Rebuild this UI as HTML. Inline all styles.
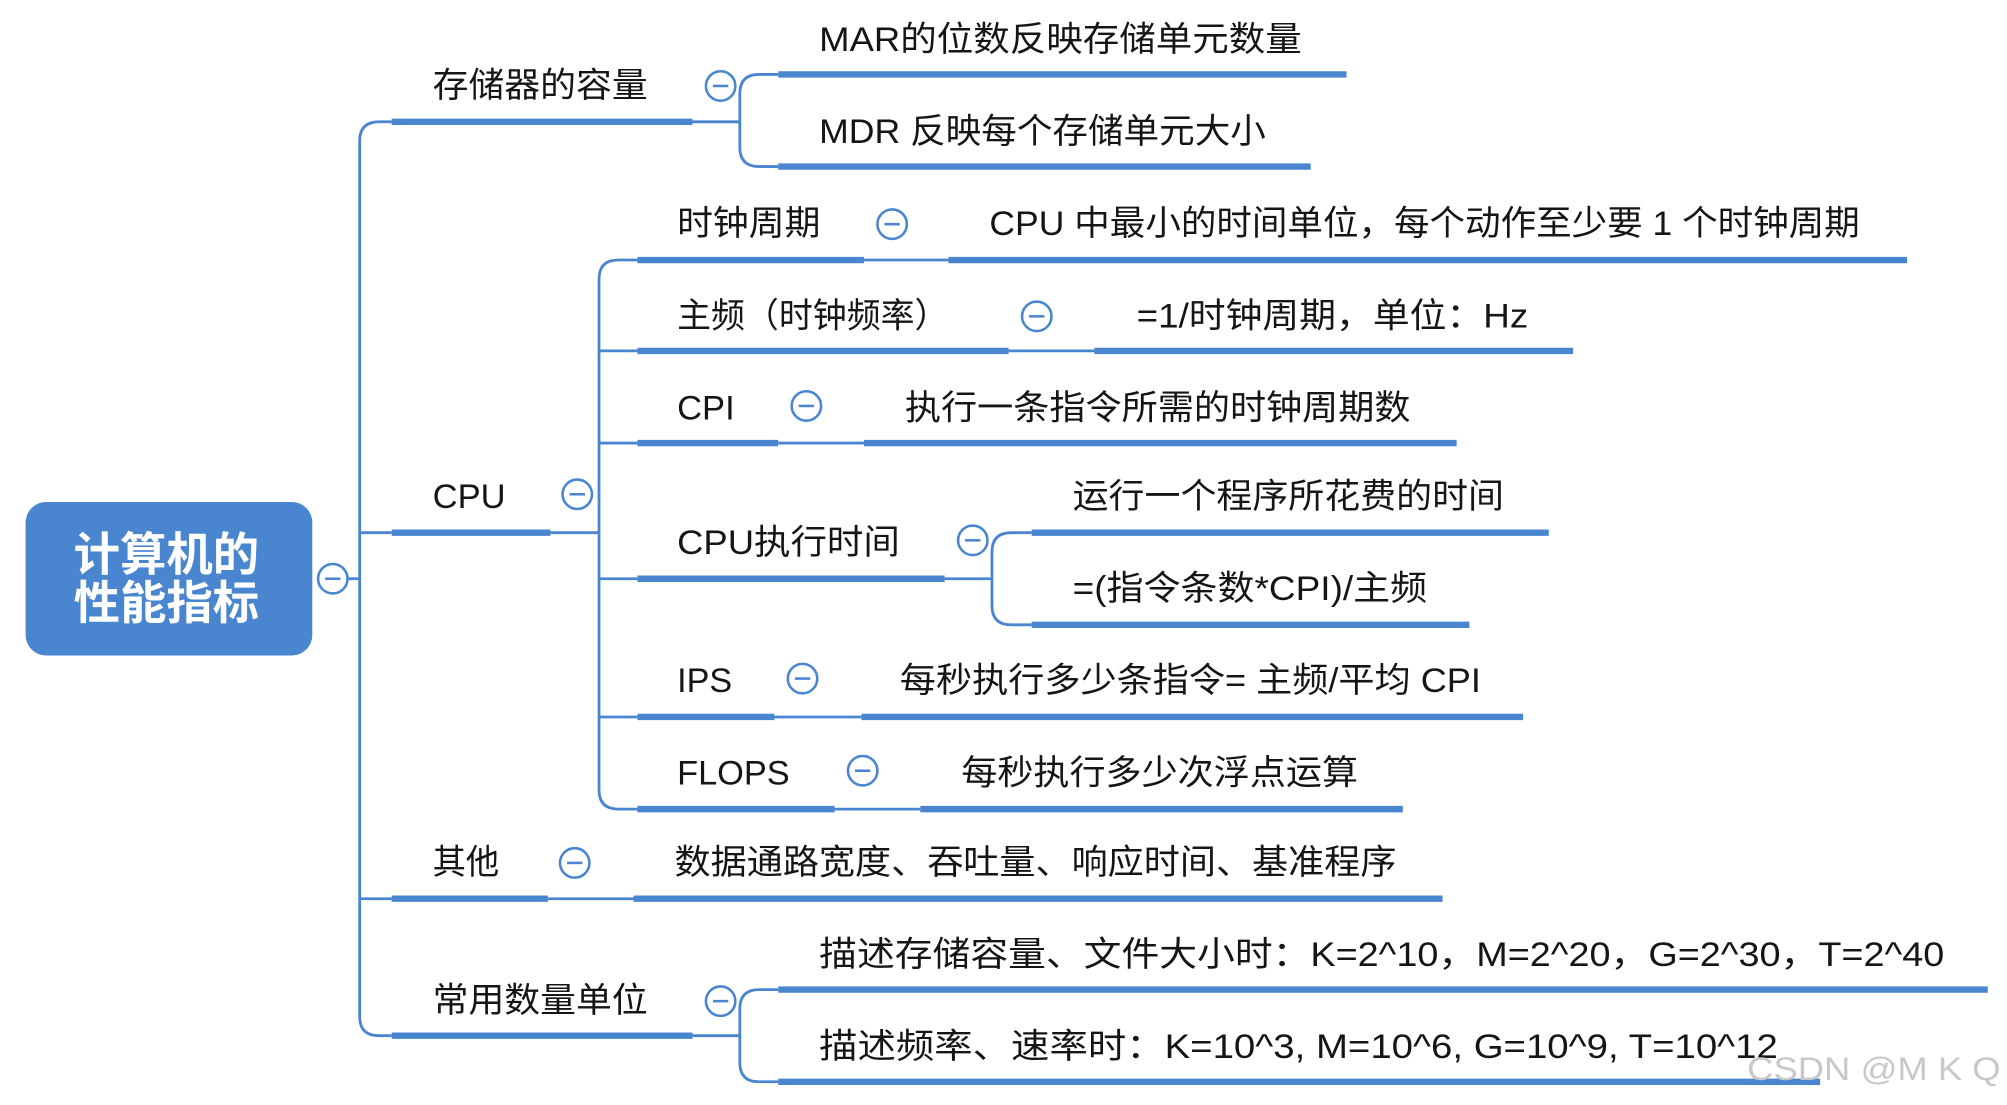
<!DOCTYPE html>
<html><head><meta charset="utf-8"><style>
html,body{margin:0;padding:0;background:#fff;}
svg{display:block}
text{font-family:"Liberation Sans","Noto Sans CJK SC",sans-serif;fill:#151515;font-size:27px;dominant-baseline:central}
</style></head><body>
<svg width="2007" height="1105" viewBox="0 0 1568 863" xmlns="http://www.w3.org/2000/svg">
<g fill="none" stroke="#4a86d0" stroke-width="2.2">
<path d="M271,452 L281,452"/>
<path d="M296,95 Q281,95 281,110 L281,794 Q281,809 296,809 L306,809"/>
<path d="M296,95 L306,95"/>
<path d="M281,416 L306,416 M281,702 L306,702"/>
<path d="M541,95 L578,95 M608,58 L593,58 Q578,58 578,73 L578,115 Q578,130 593,130 L608,130"/>
<path d="M430,416 L468,416 M498,203 L483,203 Q468,203 468,218 L468,617 Q468,632 483,632 L498,632"/>
<path d="M468,274 L498,274 M468,346 L498,346 M468,452 L498,452 M468,560 L498,560"/>
<path d="M675,203 L741,203 M788,274 L855,274 M608,346 L675,346 M605,560 L673,560 M652,632 L719,632 M428,702 L495,702"/>
<path d="M738,452 L775,452 M806,416 L790,416 Q775,416 775,431 L775,473 Q775,488 790,488 L806,488"/>
<path d="M541,809 L578,809 M608,773 L593,773 Q578,773 578,788 L578,830 Q578,845 593,845 L608,845"/>
</g>
<g stroke="#4a86d0" stroke-width="5" stroke-linecap="butt">
<line x1="306" y1="95" x2="541" y2="95"/>
<line x1="306" y1="416" x2="430" y2="416"/>
<line x1="306" y1="702" x2="428" y2="702"/>
<line x1="306" y1="809" x2="541" y2="809"/>
<line x1="608" y1="58" x2="1052" y2="58"/>
<line x1="608" y1="130" x2="1024" y2="130"/>
<line x1="498" y1="203" x2="675" y2="203"/>
<line x1="741" y1="203" x2="1490" y2="203"/>
<line x1="498" y1="274" x2="788" y2="274"/>
<line x1="855" y1="274" x2="1229" y2="274"/>
<line x1="498" y1="346" x2="608" y2="346"/>
<line x1="675" y1="346" x2="1138" y2="346"/>
<line x1="498" y1="452" x2="738" y2="452"/>
<line x1="806" y1="416" x2="1210" y2="416"/>
<line x1="806" y1="488" x2="1148" y2="488"/>
<line x1="498" y1="560" x2="605" y2="560"/>
<line x1="673" y1="560" x2="1190" y2="560"/>
<line x1="498" y1="632" x2="652" y2="632"/>
<line x1="719" y1="632" x2="1096" y2="632"/>
<line x1="495" y1="702" x2="1127" y2="702"/>
<line x1="608" y1="773" x2="1553" y2="773"/>
<line x1="608" y1="845" x2="1422" y2="845"/>
</g>
<rect x="20" y="392" width="224" height="120" rx="16" fill="#4a86d0"/>
<text x="130" y="433" text-anchor="middle" textLength="145" lengthAdjust="spacingAndGlyphs" style="fill:#fff;font-size:36px;font-weight:bold">计算机的</text>
<text x="130" y="471" text-anchor="middle" textLength="145" lengthAdjust="spacingAndGlyphs" style="fill:#fff;font-size:36px;font-weight:bold">性能指标</text>
<g fill="#fff" stroke="#4a86d0" stroke-width="2">
<circle cx="260" cy="452" r="11.5"/><circle cx="563" cy="67" r="11.5"/><circle cx="451" cy="386" r="11.5"/>
<circle cx="449" cy="674" r="11.5"/><circle cx="563" cy="782" r="11.5"/><circle cx="697" cy="175" r="11.5"/>
<circle cx="810" cy="247" r="11.5"/><circle cx="630" cy="317" r="11.5"/><circle cx="760" cy="422" r="11.5"/>
<circle cx="627" cy="530" r="11.5"/><circle cx="674" cy="602" r="11.5"/>
</g>
<g stroke="#4a86d0" stroke-width="2">
<line x1="254" y1="452" x2="266" y2="452"/><line x1="557" y1="67" x2="569" y2="67"/><line x1="445" y1="386" x2="457" y2="386"/>
<line x1="443" y1="674" x2="455" y2="674"/><line x1="557" y1="782" x2="569" y2="782"/><line x1="691" y1="175" x2="703" y2="175"/>
<line x1="804" y1="247" x2="816" y2="247"/><line x1="624" y1="317" x2="636" y2="317"/><line x1="754" y1="422" x2="766" y2="422"/>
<line x1="621" y1="530" x2="633" y2="530"/><line x1="668" y1="602" x2="680" y2="602"/>
</g>
<text x="338" y="67" textLength="168" lengthAdjust="spacingAndGlyphs">存储器的容量</text>
<text x="338" y="388" textLength="57" lengthAdjust="spacingAndGlyphs">CPU</text>
<text x="338" y="674" textLength="52" lengthAdjust="spacingAndGlyphs">其他</text>
<text x="338" y="782" textLength="168" lengthAdjust="spacingAndGlyphs">常用数量单位</text>
<text x="640" y="31" textLength="377" lengthAdjust="spacingAndGlyphs">MAR的位数反映存储单元数量</text>
<text x="640" y="103" textLength="349" lengthAdjust="spacingAndGlyphs">MDR 反映每个存储单元大小</text>
<text x="529" y="175" textLength="112" lengthAdjust="spacingAndGlyphs">时钟周期</text>
<text x="773" y="175" textLength="680" lengthAdjust="spacingAndGlyphs">CPU 中最小的时间单位，每个动作至少要 1 个时钟周期</text>
<text x="529" y="247" textLength="212" lengthAdjust="spacingAndGlyphs">主频（时钟频率）</text>
<text x="888" y="247" textLength="306" lengthAdjust="spacingAndGlyphs">=1/时钟周期，单位：Hz</text>
<text x="529" y="319" textLength="45" lengthAdjust="spacingAndGlyphs">CPI</text>
<text x="707" y="319" textLength="395" lengthAdjust="spacingAndGlyphs">执行一条指令所需的时钟周期数</text>
<text x="529" y="424" textLength="174" lengthAdjust="spacingAndGlyphs">CPU执行时间</text>
<text x="838" y="388" textLength="337" lengthAdjust="spacingAndGlyphs">运行一个程序所花费的时间</text>
<text x="838" y="460" textLength="277" lengthAdjust="spacingAndGlyphs">=(指令条数*CPI)/主频</text>
<text x="529" y="532" textLength="43" lengthAdjust="spacingAndGlyphs">IPS</text>
<text x="703" y="532" textLength="454" lengthAdjust="spacingAndGlyphs">每秒执行多少条指令= 主频/平均 CPI</text>
<text x="529" y="604" textLength="88" lengthAdjust="spacingAndGlyphs">FLOPS</text>
<text x="751" y="604" textLength="310" lengthAdjust="spacingAndGlyphs">每秒执行多少次浮点运算</text>
<text x="527" y="674" textLength="564" lengthAdjust="spacingAndGlyphs">数据通路宽度、吞吐量、响应时间、基准程序</text>
<text x="640" y="746" textLength="879" lengthAdjust="spacingAndGlyphs">描述存储容量、文件大小时：K=2^10，M=2^20，G=2^30，T=2^40</text>
<text x="640" y="818" textLength="749" lengthAdjust="spacingAndGlyphs">描述频率、速率时：K=10^3, M=10^6, G=10^9, T=10^12</text>
<text x="1365" y="835" textLength="198" lengthAdjust="spacingAndGlyphs" style="fill:#c8c8c8;font-size:25px">CSDN @M K Q</text>
</svg>
</body></html>
